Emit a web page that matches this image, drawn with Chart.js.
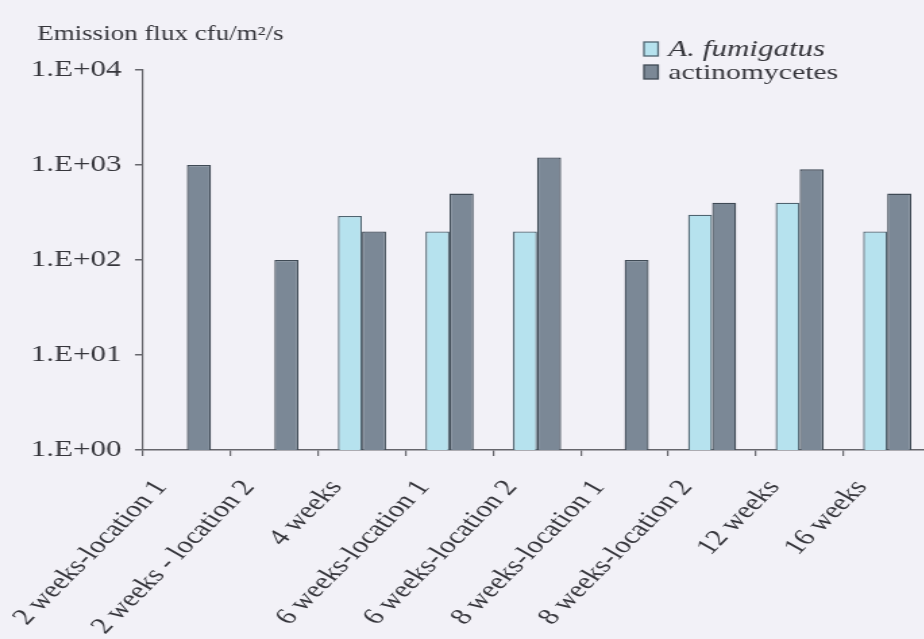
<!DOCTYPE html>
<html>
<head>
<meta charset="utf-8">
<script src="https://cdn.jsdelivr.net/npm/chart.js@4.4.1/dist/chart.umd.min.js"></script>
<style>
  html, body { margin: 0; padding: 0; background: #f2f1f7; overflow: hidden; }
  #wrap { width: 924px; height: 639px; overflow: hidden; }
  /* the figure is set in a horizontally widened face */
  #c { transform: scaleX(1.35); transform-origin: 0 0; }
</style>
</head>
<body>
<div id="wrap"><canvas id="c" width="696" height="639"></canvas></div>
<script>
// Sampling periods
const categories = [
  '2 weeks-location 1', '2 weeks - location 2', '4 weeks',
  '6 weeks-location 1', '6 weeks-location 2', '8 weeks-location 1',
  '8 weeks-location 2', '12 weeks', '16 weeks'
];
// Emission flux, cfu/m2/s (null = not detected)
const fumigatus = [null, null, 290, 200, 200, null, 300, 400, 200];
const actinomycetes = [1000, 100, 200, 500, 1200, 100, 400, 900, 500];
// Decade ticks on the log axis
const yTicks = [1, 10, 100, 1000, 10000];

const seriesNames = ['A. fumigatus', 'actinomycetes'];
const serif = "'Liberation Serif', 'Times New Roman', serif";
const textColor = '#36363c';
const axisColor = '#66666c';

// Title above the axis and the legend box in the top right
const overlay = {
  id: 'overlay',
  afterDraw(chart) {
    const ctx = chart.ctx;
    ctx.save();
    ctx.fillStyle = textColor;
    ctx.textBaseline = 'alphabetic';
    ctx.font = '20px ' + serif;
    ctx.fillText('Emission flux cfu/m\u00B2/s', 27.5, 40);

    const rows = [{y: 49, font: 'italic 23px '}, {y: 72, font: '22px '}];
    chart.data.datasets.forEach((ds, i) => {
      const r = rows[i];
      ctx.fillStyle = ds.backgroundColor;
      ctx.strokeStyle = ds.borderColor;
      ctx.lineWidth = 1.3;
      ctx.fillRect(477, r.y - 7, 10.5, 14);
      ctx.strokeRect(477, r.y - 7, 10.5, 14);
      ctx.fillStyle = textColor;
      ctx.textBaseline = 'middle';
      ctx.font = r.font + serif;
      ctx.fillText(ds.label, 495, r.y + 1);
    });
    ctx.restore();
  }
};

new Chart(document.getElementById('c'), {
  type: 'bar',
  data: {
    labels: categories,
    datasets: [
      {
        label: seriesNames[0],
        data: fumigatus,
        backgroundColor: '#b6e2ee',
        borderColor: '#4f6470',
        borderWidth: 1.3
      },
      {
        label: seriesNames[1],
        data: actinomycetes,
        backgroundColor: '#7b8896',
        borderColor: '#3f4a55',
        borderWidth: 1.3
      }
    ]
  },
  options: {
    responsive: false,
    animation: false,
    devicePixelRatio: 1,
    layout: { padding: { left: 0, right: 6.4, top: 70, bottom: 0 } },
    datasets: { bar: { barPercentage: 1, categoryPercentage: 0.55 } },
    plugins: {
      legend: { display: false },
      tooltip: { enabled: false }
    },
    scales: {
      x: {
        grid: {
          offset: true,
          drawOnChartArea: false,
          drawTicks: true,
          tickLength: 6,
          color: axisColor,
          lineWidth: 1.2
        },
        border: { display: true, color: axisColor, width: 1.5 },
        ticks: {
          color: textColor,
          font: { family: serif, size: 23 },
          minRotation: 53,
          maxRotation: 53,
          autoSkip: false,
          padding: 19,
          labelOffset: -19
        },
        afterFit(scale) {
          scale.height = 189;
          scale.paddingLeft = 0;
          scale.paddingRight = 0;
        }
      },
      y: {
        type: 'logarithmic',
        min: 1,
        max: 10000,
        grid: {
          drawOnChartArea: false,
          drawTicks: true,
          tickLength: 6,
          color: axisColor,
          lineWidth: 1.5
        },
        border: { display: true, color: axisColor, width: 1.2 },
        afterBuildTicks(scale) {
          scale.ticks = yTicks.map(v => ({ value: v }));
        },
        ticks: {
          color: textColor,
          font: { family: serif, size: 23 },
          padding: 10,
          callback(v) {
            const e = Math.round(Math.log10(v));
            return '1.E+' + String(e).padStart(2, '0');
          }
        },
        afterFit(scale) { scale.width = 106; }
      }
    }
  },
  plugins: [overlay]
});
</script>
</body>
</html>
